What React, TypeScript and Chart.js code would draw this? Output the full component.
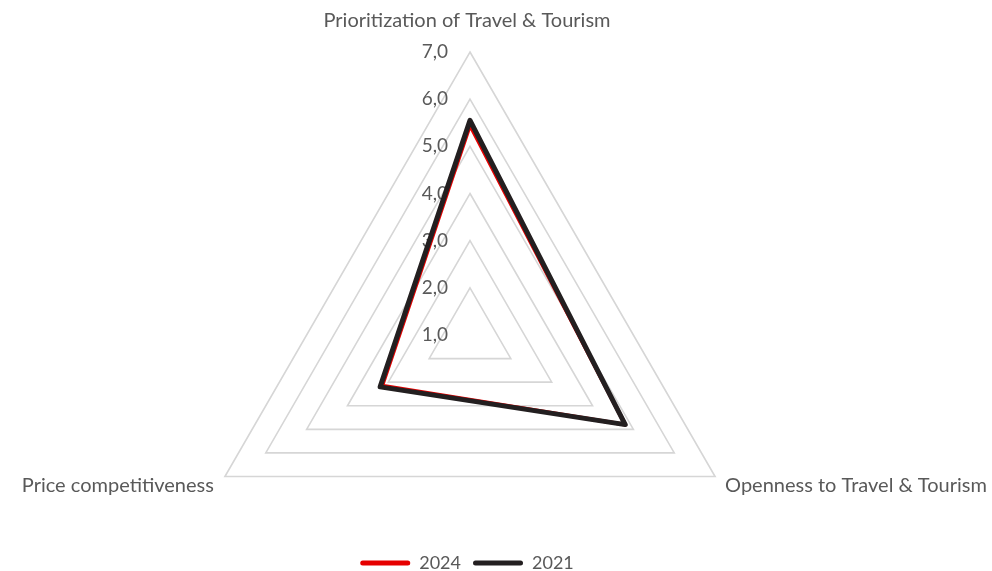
import React, { useEffect, useRef } from "react";
import Chart from "chart.js/auto";

const categories = [
  "Prioritization of Travel & Tourism",
  "Openness to Travel & Tourism",
  "Price competitiveness",
];
const seriesNames = ["2024", "2021"];
const values2024 = [5.45, 4.8, 3.15];
const values2021 = [5.55, 4.8, 3.2];
const tickValues = [1, 2, 3, 4, 5, 6, 7];

const FONT = "Lato";
const TEXT_COLOR = "#595959";
const RED = "#e60000";
const BLACK = "#231f20";

export default function App() {
  const ref = useRef<HTMLCanvasElement>(null);

  useEffect(() => {
    const canvas = ref.current;
    if (!canvas) return;

    const labelPlugin = {
      id: "customLabels",
      beforeDatasetsDraw(chart: any) {
        const s = chart.scales.r;
        const ctx = chart.ctx;
        ctx.save();
        ctx.font = `19px ${FONT}`;
        ctx.fillStyle = TEXT_COLOR;
        ctx.textAlign = "right";
        ctx.textBaseline = "middle";
        tickValues.forEach((v) => {
          const d = s.getDistanceFromCenterForValue(v);
          ctx.fillText(v.toFixed(1).replace(".", ","), s.xCenter - 22, s.yCenter - d);
        });
        ctx.restore();
      },
      afterDraw(chart: any) {
        const s = chart.scales.r;
        const ctx = chart.ctx;
        ctx.save();
        ctx.font = `20px ${FONT}`;
        ctx.fillStyle = TEXT_COLOR;
        ctx.textBaseline = "middle";
        categories.forEach((label, i) => {
          const p = s.getPointPosition(i, s.drawingArea);
          const dx = p.x - s.xCenter;
          if (Math.abs(dx) < 1) {
            ctx.textAlign = "center";
            ctx.fillText(label, p.x - 3, p.y - 31);
          } else if (dx > 0) {
            ctx.textAlign = "left";
            ctx.fillText(label, p.x + 10, p.y + 9);
          } else {
            ctx.textAlign = "right";
            ctx.fillText(label, p.x - 11, p.y + 9);
          }
        });
        ctx.restore();
      },
    };

    const chart = new Chart(canvas, {
      type: "radar",
      data: {
        labels: categories,
        datasets: [
          {
            label: seriesNames[0],
            data: values2024,
            borderColor: RED,
            backgroundColor: RED,
            borderWidth: 4,
            fill: false,
            pointRadius: 0,
            pointHoverRadius: 0,
            borderJoinStyle: "round",
            order: 1,
          },
          {
            label: seriesNames[1],
            data: values2021,
            borderColor: BLACK,
            backgroundColor: BLACK,
            borderWidth: 5,
            fill: false,
            pointRadius: 0,
            pointHoverRadius: 0,
            borderJoinStyle: "round",
            order: 0,
          },
        ],
      },
      options: {
        animation: false,
        responsive: true,
        maintainAspectRatio: false,
        layout: { padding: { left: 0, right: 58, top: 0, bottom: -11 } },
        plugins: {
          tooltip: { enabled: false },
          legend: {
            position: "bottom",
            labels: {
              font: { family: FONT, size: 18 },
              color: TEXT_COLOR,
              boxWidth: 50,
              boxHeight: 5,
              padding: 12,
              sort: (a: any, b: any) => a.datasetIndex - b.datasetIndex,
              generateLabels: (c: any) =>
                Chart.defaults.plugins.legend.labels
                  .generateLabels(c)
                  .map((l: any) => ({ ...l, lineWidth: 0, fillStyle: l.strokeStyle, borderRadius: 2.5 })),
            },
          },
        },
        scales: {
          r: {
            min: 1,
            max: 7,
            ticks: { stepSize: 1, display: false },
            grid: { color: "#d6d6d6", lineWidth: 1.6 },
            angleLines: { display: false },
            pointLabels: { display: false },
            afterFit: (scale: any) => {
              scale.xCenter = 470;
              scale.yCenter = 335;
              scale.drawingArea = 283;
            },
          },
        },
      },
      plugins: [labelPlugin],
    });

    return () => chart.destroy();
  }, []);

  return (
    <div style={{ position: "fixed", left: 0, top: 0, width: 992, height: 571, background: "#fff" }}>
      <canvas ref={ref} />
    </div>
  );
}
